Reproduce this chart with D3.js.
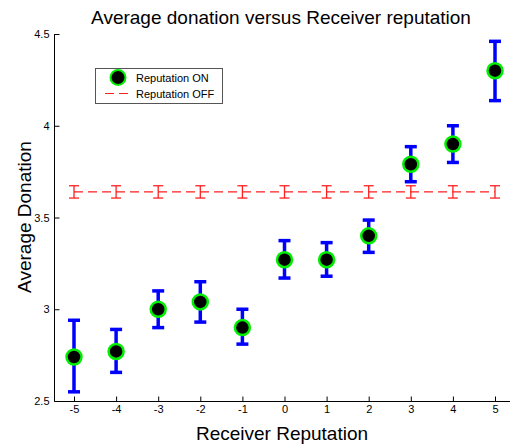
<!DOCTYPE html>
<html>
<head>
<meta charset="utf-8">
<script src="https://cdn.jsdelivr.net/npm/d3@7"></script>
<style>
  html, body { margin: 0; padding: 0; background: #fff; }
  svg { display: block; }
  text { font-family: "Liberation Sans", Arial, sans-serif; fill: #000; }
</style>
</head>
<body>
<svg id="chart" width="510" height="445"></svg>
<script>
// Receiver reputation levels
const reputations = [-5, -4, -3, -2, -1, 0, 1, 2, 3, 4, 5];
// Reputation ON: mean donation and error-bar bounds
const onMean  = [2.74, 2.77, 3.00, 3.04, 2.90, 3.27, 3.27, 3.40, 3.79, 3.90, 4.30];
const onLow   = [2.55, 2.656, 2.90, 2.93, 2.81, 3.17, 3.18, 3.31, 3.695, 3.80, 4.137];
const onHigh  = [2.94, 2.89, 3.10, 3.15, 3.00, 3.374, 3.363, 3.486, 3.886, 4.00, 4.46];
// Reputation OFF: constant mean with small error
const offMean = [3.64, 3.64, 3.64, 3.64, 3.64, 3.64, 3.64, 3.64, 3.64, 3.64, 3.64];
const offLow  = [3.606, 3.606, 3.606, 3.606, 3.606, 3.606, 3.606, 3.606, 3.606, 3.606, 3.606];
const offHigh = [3.673, 3.673, 3.673, 3.673, 3.673, 3.673, 3.673, 3.673, 3.673, 3.673, 3.673];
const yTicks = [2.5, 3, 3.5, 4, 4.5];
const yTickLabels = ["2.5", "3", "3.5", "4", "4.5"];

const svg = d3.select("#chart");
const x = d3.scaleLinear().domain([-5, 5]).range([74, 495]);
const y = d3.scaleLinear().domain([2.5, 4.5]).range([401, 34]);
const axisLeftX = 54.5, axisBottomY = 401.5;

// Title and axis labels
svg.append("text").attr("x", 281).attr("y", 24).attr("text-anchor", "middle")
  .style("font-size", "19px").text("Average donation versus Receiver reputation");
svg.append("text").attr("x", 282).attr("y", 440).attr("text-anchor", "middle")
  .style("font-size", "19px").text("Receiver Reputation");
svg.append("text").attr("transform", "translate(31,217) rotate(-90)").attr("text-anchor", "middle")
  .style("font-size", "19px").text("Average Donation");

// Axes (ticks point inward)
const gy = svg.append("g").attr("transform", `translate(${axisLeftX},0)`)
  .call(d3.axisRight(y).tickValues(yTicks).tickFormat((d, i) => yTickLabels[i]).tickSize(5).tickSizeOuter(0));
gy.select(".domain").remove();
gy.selectAll("text").attr("x", -5).attr("text-anchor", "end").style("font-size", "11px").style("font-family", "Liberation Sans, Arial, sans-serif");
gy.selectAll("line").attr("stroke", "#000");

const gx = svg.append("g").attr("transform", `translate(0,${axisBottomY})`)
  .call(d3.axisTop(x).tickValues(reputations).tickFormat(d => String(d)).tickSize(5).tickSizeOuter(0));
gx.select(".domain").remove();
gx.selectAll("text").attr("y", 11).style("font-size", "11px").style("font-family", "Liberation Sans, Arial, sans-serif");
gx.selectAll("line").attr("stroke", "#000");

svg.append("line").attr("x1", axisLeftX).attr("x2", axisLeftX).attr("y1", y(4.5)).attr("y2", axisBottomY)
  .attr("stroke", "#000");
svg.append("line").attr("x1", axisLeftX).attr("x2", 510).attr("y1", axisBottomY).attr("y2", axisBottomY)
  .attr("stroke", "#000");

// Reputation OFF: dashed red line with thin error bars
const offData = reputations.map((r, i) => ({ r, m: offMean[i], lo: offLow[i], hi: offHigh[i] }));
svg.append("path").datum(offData)
  .attr("d", d3.line().x(d => x(d.r)).y(d => y(d.m)))
  .attr("fill", "none").attr("stroke", "#ff2020").attr("stroke-width", 1.2).attr("stroke-dasharray", "9,5");
const offG = svg.append("g").attr("stroke", "#ff2020").attr("stroke-width", 1.3);
offData.forEach(d => {
  offG.append("line").attr("x1", x(d.r)).attr("x2", x(d.r)).attr("y1", y(d.lo)).attr("y2", y(d.hi));
  offG.append("line").attr("x1", x(d.r) - 5).attr("x2", x(d.r) + 5).attr("y1", y(d.lo)).attr("y2", y(d.lo));
  offG.append("line").attr("x1", x(d.r) - 5).attr("x2", x(d.r) + 5).attr("y1", y(d.hi)).attr("y2", y(d.hi));
});

// Reputation ON: blue error bars and green-edged black markers
const onData = reputations.map((r, i) => ({ r, m: onMean[i], lo: onLow[i], hi: onHigh[i] }));
const onG = svg.append("g").attr("stroke", "#0000ff").attr("stroke-width", 3.5);
onData.forEach(d => {
  onG.append("line").attr("x1", x(d.r)).attr("x2", x(d.r)).attr("y1", y(d.lo)).attr("y2", y(d.hi));
  onG.append("line").attr("x1", x(d.r) - 6).attr("x2", x(d.r) + 6).attr("y1", y(d.lo)).attr("y2", y(d.lo));
  onG.append("line").attr("x1", x(d.r) - 6).attr("x2", x(d.r) + 6).attr("y1", y(d.hi)).attr("y2", y(d.hi));
});
svg.append("g").selectAll("circle").data(onData).join("circle")
  .attr("cx", d => x(d.r)).attr("cy", d => y(d.m)).attr("r", 7.5)
  .attr("fill", "#000").attr("stroke", "#00ee00").attr("stroke-width", 2.5);

// Legend
const lg = svg.append("g");
lg.append("rect").attr("x", 95.5).attr("y", 68.5).attr("width", 127).attr("height", 35)
  .attr("fill", "#fff").attr("stroke", "#555").attr("stroke-width", 1);
lg.append("circle").attr("cx", 118).attr("cy", 77.5).attr("r", 7.5)
  .attr("fill", "#000").attr("stroke", "#00ee00").attr("stroke-width", 2);
lg.append("line").attr("x1", 105).attr("x2", 130).attr("y1", 93.5).attr("y2", 93.5)
  .attr("stroke", "#ff2020").attr("stroke-width", 1.2).attr("stroke-dasharray", "9,5");
lg.append("text").attr("x", 136).attr("y", 81.5).style("font-size", "11px").text("Reputation ON");
lg.append("text").attr("x", 136).attr("y", 97.5).style("font-size", "11px").text("Reputation OFF");
</script>
</body>
</html>
